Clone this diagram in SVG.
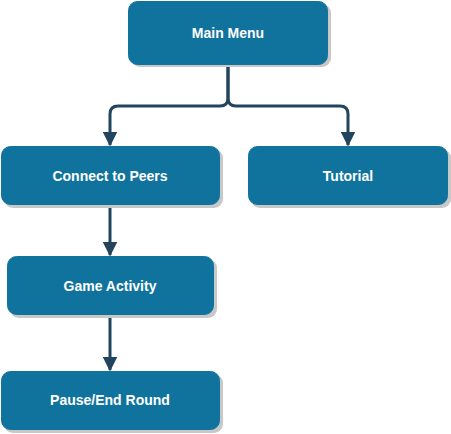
<svg xmlns="http://www.w3.org/2000/svg" width="451" height="434" viewBox="0 0 451 434">
<defs>
<style>
.box{fill:#10739e;stroke:#10739e;stroke-width:1}
.sh{fill:#c8c8c8}
.lbl{fill:#ffffff;font-family:"Liberation Sans",Arial,sans-serif;font-weight:bold;font-size:14px;text-anchor:middle;dominant-baseline:central}
.edge{fill:none;stroke:#23445d;stroke-width:3}
</style>
<marker id="ah" viewBox="0 0 10 10" refX="9" refY="5" markerWidth="15" markerHeight="15" markerUnits="userSpaceOnUse" orient="auto">
<path d="M0,0 L10,5 L0,10 Z" fill="#23445d"/>
</marker>
</defs>
<g id="edges">
<path class="edge" d="M228,66 V98 Q228,106 220,106 H118 Q110,106 110,114 V145" marker-end="url(#ah)"/>
<path class="edge" d="M228,66 V98 Q228,106 236,106 H340 Q348,106 348,114 V145" marker-end="url(#ah)"/>
<path class="edge" d="M110,206 V255" marker-end="url(#ah)"/>
<path class="edge" d="M110,316 V370" marker-end="url(#ah)"/>
</g>
<g id="main-menu">
<rect class="sh" x="131" y="4" width="200" height="63" rx="9"/>
<rect class="box" x="128.5" y="1.5" width="199" height="63" rx="9"/>
<text class="lbl" x="228" y="33">Main Menu</text>
</g>
<g id="connect-to-peers">
<rect class="sh" x="4" y="149" width="219" height="59" rx="9"/>
<rect class="box" x="1.5" y="146.5" width="218" height="58" rx="9"/>
<text class="lbl" x="110" y="176">Connect to Peers</text>
</g>
<g id="tutorial">
<rect class="sh" x="251" y="149" width="200" height="59" rx="9"/>
<rect class="box" x="248.5" y="146.5" width="199" height="58" rx="9"/>
<text class="lbl" x="348" y="176">Tutorial</text>
</g>
<g id="game-activity">
<rect class="sh" x="10" y="259" width="207" height="59" rx="9"/>
<rect class="box" x="7.5" y="256.5" width="206" height="58" rx="9"/>
<text class="lbl" x="110" y="286">Game Activity</text>
</g>
<g id="pause-end-round">
<rect class="sh" x="4" y="374" width="219" height="59" rx="9"/>
<rect class="box" x="1.5" y="371.5" width="218" height="58" rx="9"/>
<text class="lbl" x="110" y="400">Pause/End Round</text>
</g>
</svg>
